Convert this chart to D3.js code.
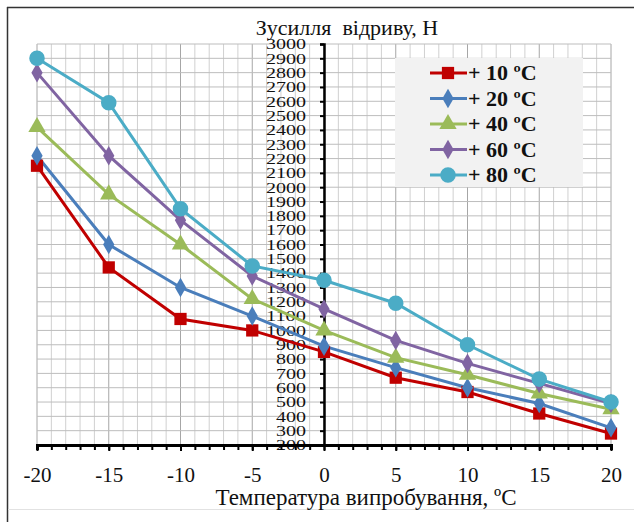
<!DOCTYPE html>
<html><head><meta charset="utf-8">
<script src="https://cdn.jsdelivr.net/npm/d3@7"></script>
<style>body{margin:0;background:#fff}svg{display:block}</style>
</head><body>
<svg id="c" width="634" height="522"></svg>
<script>
const temps = [-20, -15, -10, -5, 0, 5, 10, 15, 20];
const seriesNames = ["+ 10 ºC", "+ 20 ºC", "+ 40 ºC", "+ 60 ºC", "+ 80 ºC"];
const s10 = [2150, 1440, 1080, 1000, 850, 670, 570, 420, 280];
const s20 = [2220, 1600, 1300, 1100, 890, 740, 600, 490, 320];
const s40 = [2420, 1950, 1600, 1220, 1000, 810, 690, 560, 450];
const s60 = [2800, 2220, 1770, 1380, 1150, 930, 770, 630, 490];
const s80 = [2900, 2590, 1850, 1450, 1350, 1190, 900, 660, 500];
const yTicks = d3.range(200, 3001, 100);
const xMajor = [-20, -15, -10, -5, 0, 5, 10, 15, 20];
const xMinor = d3.range(-20, 21, 1);
const colors = ["#C00000", "#4A7EBB", "#9BBB59", "#8064A2", "#4BACC6"];
const shapes = [d3.symbolSquare, d3.symbolDiamond, d3.symbolTriangle, d3.symbolDiamond, d3.symbolCircle];
const symSizes = [150, 110, 130, 110, 190];
const allSeries = [s10, s20, s40, s60, s80];
const titleText = "Зусилля  відриву, Н";
const xTitle = "Температура випробування, ºC";

const svg = d3.select("#c");
const font = "'Liberation Serif','Times New Roman',serif";
const x = d3.scaleLinear().domain([-20, 20]).range([37, 611]);
const y = d3.scaleLinear().domain([200, 3000]).range([445, 44]);

// frame
svg.append("line").attr("x1",7.5).attr("x2",7.5).attr("y1",7).attr("y2",522).attr("stroke","#333").attr("stroke-width",1.5);
svg.append("line").attr("x1",7).attr("x2",634).attr("y1",7.5).attr("y2",7.5).attr("stroke","#333").attr("stroke-width",1.5);
svg.append("line").attr("x1",8).attr("x2",634).attr("y1",509.5).attr("y2",509.5).attr("stroke","#e2e2e2").attr("stroke-width",1);

// grid
const g = svg.append("g");
g.selectAll("line.v").data(xMinor).join("line")
  .attr("x1", d => x(d)).attr("x2", d => x(d)).attr("y1", y(3000)).attr("y2", y(200))
  .attr("stroke", d => d % 5 === 0 ? "#a6a6a6" : "#d0d0d0").attr("stroke-width", 1);
g.selectAll("line.h").data(yTicks).join("line")
  .attr("x1", x(-20)).attr("x2", x(20)).attr("y1", d => y(d)).attr("y2", d => y(d))
  .attr("stroke", "#bdbdbd").attr("stroke-width", 1);

// y axis at x=0
const yAxis = svg.append("g").attr("transform", `translate(${x(0)},0)`)
  .call(d3.axisLeft(y).tickValues(yTicks).tickSize(4).tickPadding(14).tickFormat(d3.format("d")));
yAxis.select(".domain").attr("stroke","#000").attr("stroke-width",2.5);
yAxis.selectAll(".tick line").attr("stroke","#000").attr("stroke-width",2);
yAxis.selectAll("text").attr("font-family", font).attr("font-size", 15).attr("fill","#111")
  .attr("textLength", d => String(d).length * 10).attr("lengthAdjust","spacingAndGlyphs");

// x axis
const xAxisMinor = svg.append("g").attr("transform", `translate(0,${y(200)})`)
  .call(d3.axisBottom(x).tickValues(xMinor).tickSize(5).tickFormat(""));
xAxisMinor.select(".domain").attr("stroke","#000").attr("stroke-width",3);
xAxisMinor.selectAll(".tick line").attr("stroke","#000").attr("stroke-width",2);
const xAxis = svg.append("g").attr("transform", `translate(0,${y(200)})`)
  .call(d3.axisBottom(x).tickValues(xMajor).tickSize(6).tickPadding(16).tickFormat(d3.format("d")));
xAxis.select(".domain").remove();
xAxis.selectAll(".tick line").attr("stroke","#000").attr("stroke-width",2);
xAxis.selectAll("text").attr("font-family", font).attr("font-size", 21).attr("fill","#111")
  .text(d => d < 0 ? "-" + Math.abs(d) : d);

// series
const line = d3.line().x((d,i) => x(temps[i])).y(d => y(d));
allSeries.forEach((s, k) => {
  svg.append("path").attr("d", line(s)).attr("fill","none").attr("stroke", colors[k]).attr("stroke-width", 3);
});
allSeries.forEach((s, k) => {
  svg.append("g").selectAll("path").data(s).join("path")
    .attr("transform", (d,i) => `translate(${x(temps[i])},${y(d)})`)
    .attr("d", d3.symbol().type(shapes[k]).size(symSizes[k]))
    .attr("fill", colors[k]);
});

// title
svg.append("text").attr("x", 347).attr("y", 35).attr("text-anchor","middle")
  .attr("font-family", font).attr("font-size", 22).attr("fill","#111").style("white-space","pre").text(titleText);
svg.append("text").attr("x", 366).attr("y", 505).attr("text-anchor","middle")
  .attr("font-family", font).attr("font-size", 23).attr("fill","#111").text(xTitle);

// legend
const leg = svg.append("g");
leg.append("rect").attr("x",395).attr("y",58).attr("width",188).attr("height",129).attr("fill","#f2f2f2");
const ly = d3.scalePoint().domain(seriesNames).range([73, 175]);
seriesNames.forEach((n, k) => {
  const yy = ly(n);
  leg.append("line").attr("x1",430).attr("x2",467).attr("y1",yy).attr("y2",yy).attr("stroke",colors[k]).attr("stroke-width",3);
  leg.append("path").attr("transform",`translate(448,${yy})`).attr("d", d3.symbol().type(shapes[k]).size(symSizes[k])).attr("fill",colors[k]);
  leg.append("text").attr("x",468).attr("y",yy+7).attr("font-family",font).attr("font-size",22).attr("font-weight","bold").attr("fill","#111").text(n);
});
</script>
</body></html>
